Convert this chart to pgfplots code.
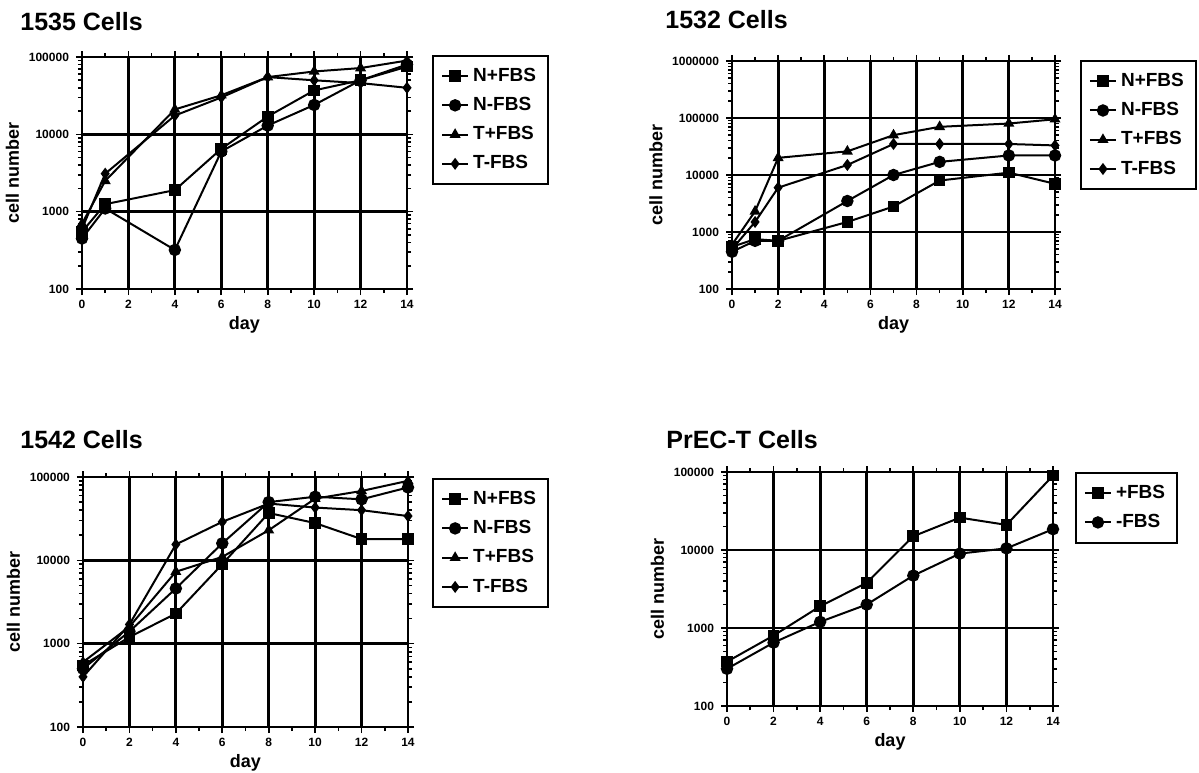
\documentclass[border=0pt]{standalone}
\usepackage{pgfplots}
\pgfplotsset{compat=1.18}
\usepackage{fontspec}
\setmainfont{Liberation Sans}

% common look of the four panels
\pgfplotsset{
  scale only axis,
  xmin=0, xmax=14,
  ymin=100,
  xtick={0,2,...,14},
  minor x tick num=1,
  grid=major,
  major grid style={black, line width=1.4pt},
  axis line style={black, line width=1.4pt},
  tick align=outside,
  major tick length=3pt, minor tick length=2pt,
  tick style={black, line width=0.8pt},
  ticklabel style={font=\fontsize{6}{7}\selectfont\bfseries},
  xticklabel style={yshift=1pt},
  xlabel={day}, ylabel={cell number},
  label style={font=\fontsize{9}{10}\selectfont\bfseries},
  xlabel style={yshift=3pt},
  ylabel style={yshift=-2pt},
  legend style={draw=black, line width=1pt, font=\fontsize{9.5}{10}\selectfont\bfseries,
    anchor=north west, row sep=2.5pt, inner xsep=4pt, inner ysep=4pt},
  legend cell align=left,
  legend image code/.code={\draw[mark repeat=2,mark phase=2] plot coordinates {(0cm,0cm) (0.23cm,0cm) (0.46cm,0cm)};},
  every axis plot/.append style={black, line width=1pt, mark options={solid, fill=black}},
  clip=false,
}

\begin{document}
\begin{tikzpicture}
\path[use as bounding box] (0,0) rectangle (599.5pt,-386pt);

\node[anchor=base west, font=\fontsize{12.5}{13}\selectfont\bfseries, inner sep=0pt] at (10pt,-15pt) {1535 Cells};
\node[anchor=base west, font=\fontsize{12.5}{13}\selectfont\bfseries, inner sep=0pt] at (332.5pt,-14pt) {1532 Cells};
\node[anchor=base west, font=\fontsize{12.5}{13}\selectfont\bfseries, inner sep=0pt] at (10pt,-224pt) {1542 Cells};
\node[anchor=base west, font=\fontsize{12.5}{13}\selectfont\bfseries, inner sep=0pt] at (333pt,-224pt) {PrEC-T Cells};

% 1535
\begin{semilogyaxis}[at={(41pt,-144.5pt)}, anchor=south west,
  width=162.5pt, height=116pt, ymax=100000,
  xticklabels={0,2,4,6,8,10,12,14},
  ytick={100,1000,10000,100000}, yticklabels={100,1000,10000,100000},
  legend style={at={(1.077,1.009)}}]
\addplot[mark=square*, mark size=2.4pt] coordinates {(0,550) (1,1250) (4,1900) (6,6500) (8,17000) (10,37000) (12,50000) (14,75000)};
\addplot[mark=*, mark size=2.6pt] coordinates {(0,450) (1,1100) (4,320) (6,6000) (8,13000) (10,24000) (12,50000) (14,80000)};
\addplot[mark=triangle*, mark size=2.2pt] coordinates {(0,700) (1,2500) (4,21000) (6,32000) (8,55000) (10,65000) (12,72000) (14,90000)};
\addplot[mark=diamond*, mark size=2.2pt] coordinates {(0,600) (1,3100) (4,17500) (6,30000) (8,55000) (10,50000) (12,46000) (14,40000)};
\legend{N+FBS,N-FBS,T+FBS,T-FBS}
\end{semilogyaxis}

% 1532
\begin{semilogyaxis}[at={(366pt,-144.5pt)}, anchor=south west,
  width=161.5pt, height=114pt, ymax=1000000,
  xticklabels={0,2,4,6,8,10,12,14},
  ytick={100,1000,10000,100000,1000000}, yticklabels={100,1000,10000,100000,1000000},
  legend style={at={(1.077,1.004)}}]
\addplot[mark=square*, mark size=2.4pt] coordinates {(0,550) (1,750) (2,700) (5,1500) (7,2800) (9,8000) (12,11000) (14,7000)};
\addplot[mark=*, mark size=2.6pt] coordinates {(0,450) (1,700) (2,700) (5,3500) (7,10000) (9,17000) (12,22000) (14,22000)};
\addplot[mark=triangle*, mark size=2.2pt] coordinates {(0,600) (1,2300) (2,20000) (5,26000) (7,50000) (9,70000) (12,80000) (14,95000)};
\addplot[mark=diamond*, mark size=2.2pt] coordinates {(0,500) (1,1500) (2,6000) (5,15000) (7,35000) (9,35000) (12,35000) (14,33000)};
\legend{N+FBS,N-FBS,T+FBS,T-FBS}
\end{semilogyaxis}

% 1542
\begin{semilogyaxis}[at={(41.5pt,-363.5pt)}, anchor=south west,
  width=162.5pt, height=125pt, ymax=100000,
  xticklabels={0,2,4,6,8,10,12,14},
  ytick={100,1000,10000,100000}, yticklabels={100,1000,10000,100000},
  legend style={at={(1.074,0.996)}}]
\addplot[mark=square*, mark size=2.4pt] coordinates {(0,550) (2,1200) (4,2300) (6,9000) (8,37000) (10,28000) (12,18000) (14,18000)};
\addplot[mark=*, mark size=2.6pt] coordinates {(0,500) (2,1400) (4,4600) (6,16000) (8,50000) (10,58000) (12,54000) (14,75000)};
\addplot[mark=triangle*, mark size=2.2pt] coordinates {(0,600) (2,1600) (4,7300) (6,11000) (8,23000) (10,55000) (12,68000) (14,90000)};
\addplot[mark=diamond*, mark size=2.2pt] coordinates {(0,400) (2,1700) (4,15500) (6,29000) (8,48000) (10,43000) (12,40000) (14,34000)};
\legend{N+FBS,N-FBS,T+FBS,T-FBS}
\end{semilogyaxis}

% PrEC-T
\begin{semilogyaxis}[at={(363.5pt,-353pt)}, anchor=south west,
  width=163pt, height=117pt, ymax=100000,
  xticklabels={0,2,4,6,8,10,12,14},
  ytick={100,1000,10000,100000}, yticklabels={100,1000,10000,100000},
  legend style={at={(1.067,1.0)}}]
\addplot[mark=square*, mark size=2.4pt] coordinates {(0,370) (2,800) (4,1900) (6,3800) (8,15000) (10,26000) (12,21000) (14,90000)};
\addplot[mark=*, mark size=2.6pt] coordinates {(0,300) (2,650) (4,1200) (6,2000) (8,4700) (10,9000) (12,10500) (14,18500)};
\legend{+FBS,-FBS}
\end{semilogyaxis}
\end{tikzpicture}
\end{document}
